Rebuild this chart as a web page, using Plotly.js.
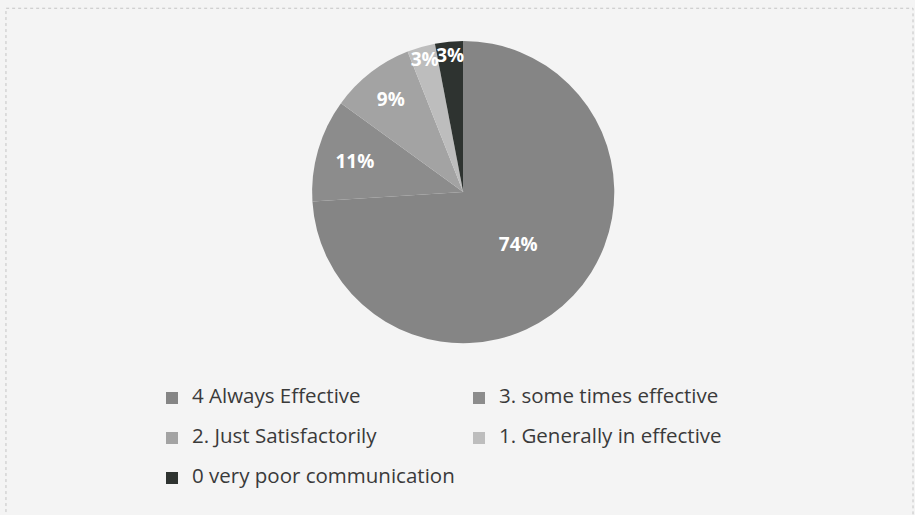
<!DOCTYPE html>
<html>
<head>
<meta charset="utf-8">
<script src="https://cdn.plot.ly/plotly-3.0.1.min.js"></script>
<style>html,body{margin:0;padding:0;background:#f4f4f4}#chart{width:915px;height:515px}</style>
</head>
<body>
<div id="chart"></div>
<script>
const categories = ["4 Always Effective", "3. some times effective", "2. Just Satisfactorily", "1. Generally in effective", "0 very poor communication"];
const percentages = [74, 11, 9, 3, 3];
const sliceColors = ["#858585", "#8c8c8c", "#a3a3a3", "#bdbdbd", "#2e3330"];

const trace = {
  type: "pie",
  labels: categories.map(c => '<span style="font-size:20.5px">' + c + '</span><br> '),
  values: percentages,
  sort: false,
  direction: "clockwise",
  rotation: 0,
  marker: {colors: sliceColors, line: {width: 0}},
  textinfo: "percent",
  texttemplate: "%{value}%",
  textposition: "inside",
  insidetextorientation: "horizontal",
  textfont: {family: "'Open Sans', Lato, sans-serif", size: 19, color: "#ffffff", weight: "bold"},
  domain: {x: [0.408, 0.803], y: [0.332, 0.922]},
  hoverinfo: "percent"
};

const layout = {
  width: 915, height: 515,
  margin: {l: 0, r: 150, t: 0, b: 0, autoexpand: false},
  paper_bgcolor: "#f4f4f4",
  plot_bgcolor: "#f4f4f4",
  showlegend: true,
  uniformtext: {mode: "show", minsize: 19},
  legend: {
    orientation: "h",
    x: 0.1987, xanchor: "left",
    y: 0.258, yanchor: "top",
    entrywidth: 262, entrywidthmode: "pixels",
    valign: "top",
    itemwidth: 30,
    font: {family: "'Open Sans', Lato, sans-serif", size: 14.23, color: "#3a3a3a"},
    bgcolor: "rgba(0,0,0,0)"
  },
  shapes: [{
    type: "rect", xref: "paper", yref: "paper",
    x0: 0.0078, x1: 1.1935, y0: -0.02, y1: 0.984,
    line: {color: "#c4c4c4", width: 1, dash: "dot"}
  }]
};

Plotly.newPlot("chart", [trace], layout, {displayModeBar: false, staticPlot: true});
</script>
</body>
</html>
